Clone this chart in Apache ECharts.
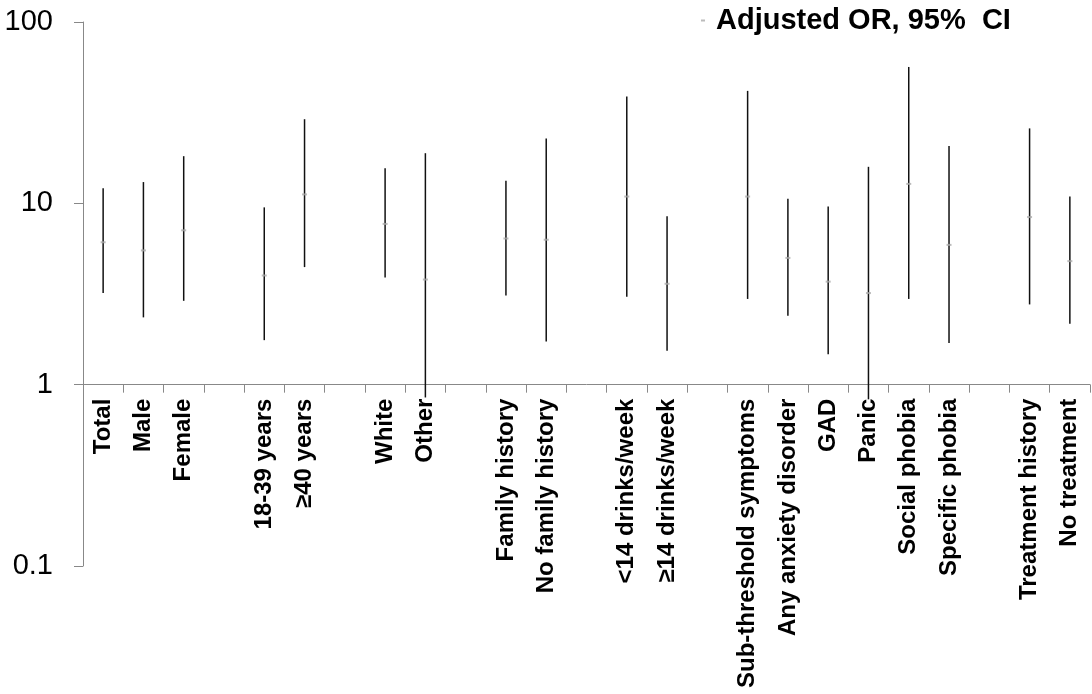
<!DOCTYPE html>
<html>
<head>
<meta charset="utf-8">
<script src="https://cdn.jsdelivr.net/npm/echarts@6/dist/echarts.min.js"></script>
<style>
html,body{margin:0;padding:0;background:#fff;}
#chart{width:1092px;height:694px;}
</style>
</head>
<body>
<div id="chart"></div>
<script>
var categories = ['Total','Male','Female','','18-39 years','\u226540 years','','White','Other','',
  'Family history','No family history','','<14 drinks/week','\u226514 drinks/week','',
  'Sub-threshold symptoms','Any anxiety disorder','GAD','Panic','Social phobia','Specific phobia','',
  'Treatment history','No treatment'];
var oddsRatio = [6.1,5.5,7.1,null,4.0,11.2,null,7.7,3.8,null,6.4,6.3,null,10.9,3.6,null,10.9,5.0,3.7,3.2,12.8,5.9,null,8.4,4.8];
var ciLower = [3.2,2.35,2.9,null,1.76,4.45,null,3.9,0.85,null,3.1,1.73,null,3.05,1.54,null,2.97,2.4,1.47,0.83,2.97,1.7,null,2.77,2.17];
var ciUpper = [12.1,13.1,18.2,null,9.5,29.1,null,15.6,18.9,null,13.3,22.8,null,38.8,8.5,null,41.7,10.6,9.6,15.9,56.5,20.7,null,25.9,10.9];
var yTicks = [0.1,1,10,100];

var ciData = [];
var orData = [];
for (var i = 0; i < categories.length; i++) {
  if (oddsRatio[i] != null) {
    ciData.push([i, ciLower[i], ciUpper[i]]);
    orData.push([i, oddsRatio[i]]);
  }
}

var chart = echarts.init(document.getElementById('chart'));
var gridHeight = 544;
var font = 'Liberation Sans, Arial, sans-serif';
chart.setOption({
  animation: false,
  backgroundColor: '#fff',
  grid: { left: 83, right: 2, top: 22, height: gridHeight },
  legend: {
    data: [{ name: 'Adjusted OR, 95%\u00a0 CI', icon: 'rect' }],
    left: 696, top: 1,
    itemWidth: 4, itemHeight: 2,
    textStyle: { fontSize: 29, fontWeight: 'bold', color: '#000', fontFamily: font, padding: [0,0,0,6] }
  },
  xAxis: {
    type: 'category',
    data: categories,
    position: 'bottom',
    offset: -gridHeight / 3,
    axisLine: { show: true, lineStyle: { color: '#888', width: 1 } },
    axisTick: { show: true, length: 8, lineStyle: { color: '#888' } },
    axisLabel: { interval: 0, rotate: 90, margin: 14, fontSize: 24, fontWeight: 'bold', color: '#000', fontFamily: font },
    splitLine: { show: false }
  },
  yAxis: {
    type: 'log',
    logBase: 10,
    min: 0.1,
    max: 100,
    axisLine: { show: true, lineStyle: { color: '#888', width: 1 } },
    axisTick: { show: true, length: 9, lineStyle: { color: '#888' } },
    axisLabel: { fontSize: 29, color: '#000', margin: 30, fontFamily: font,
      formatter: function (v) { return String(v); } },
    splitLine: { show: false }
  },
  series: [
    {
      name: 'CI',
      type: 'custom',
      data: ciData,
      clip: false,
      renderItem: function (params, api) {
        var lo = api.coord([api.value(0), api.value(1)]);
        var hi = api.coord([api.value(0), api.value(2)]);
        return {
          type: 'line',
          shape: { x1: lo[0], y1: lo[1], x2: hi[0], y2: hi[1] },
          style: { stroke: '#111', lineWidth: 1.5 }
        };
      },
      z: 2
    },
    {
      name: 'Adjusted OR, 95%\u00a0 CI',
      type: 'scatter',
      data: orData,
      symbol: 'rect',
      symbolSize: [5, 2],
      itemStyle: { color: '#aaa' },
      z: 3
    }
  ]
});
</script>
</body>
</html>
